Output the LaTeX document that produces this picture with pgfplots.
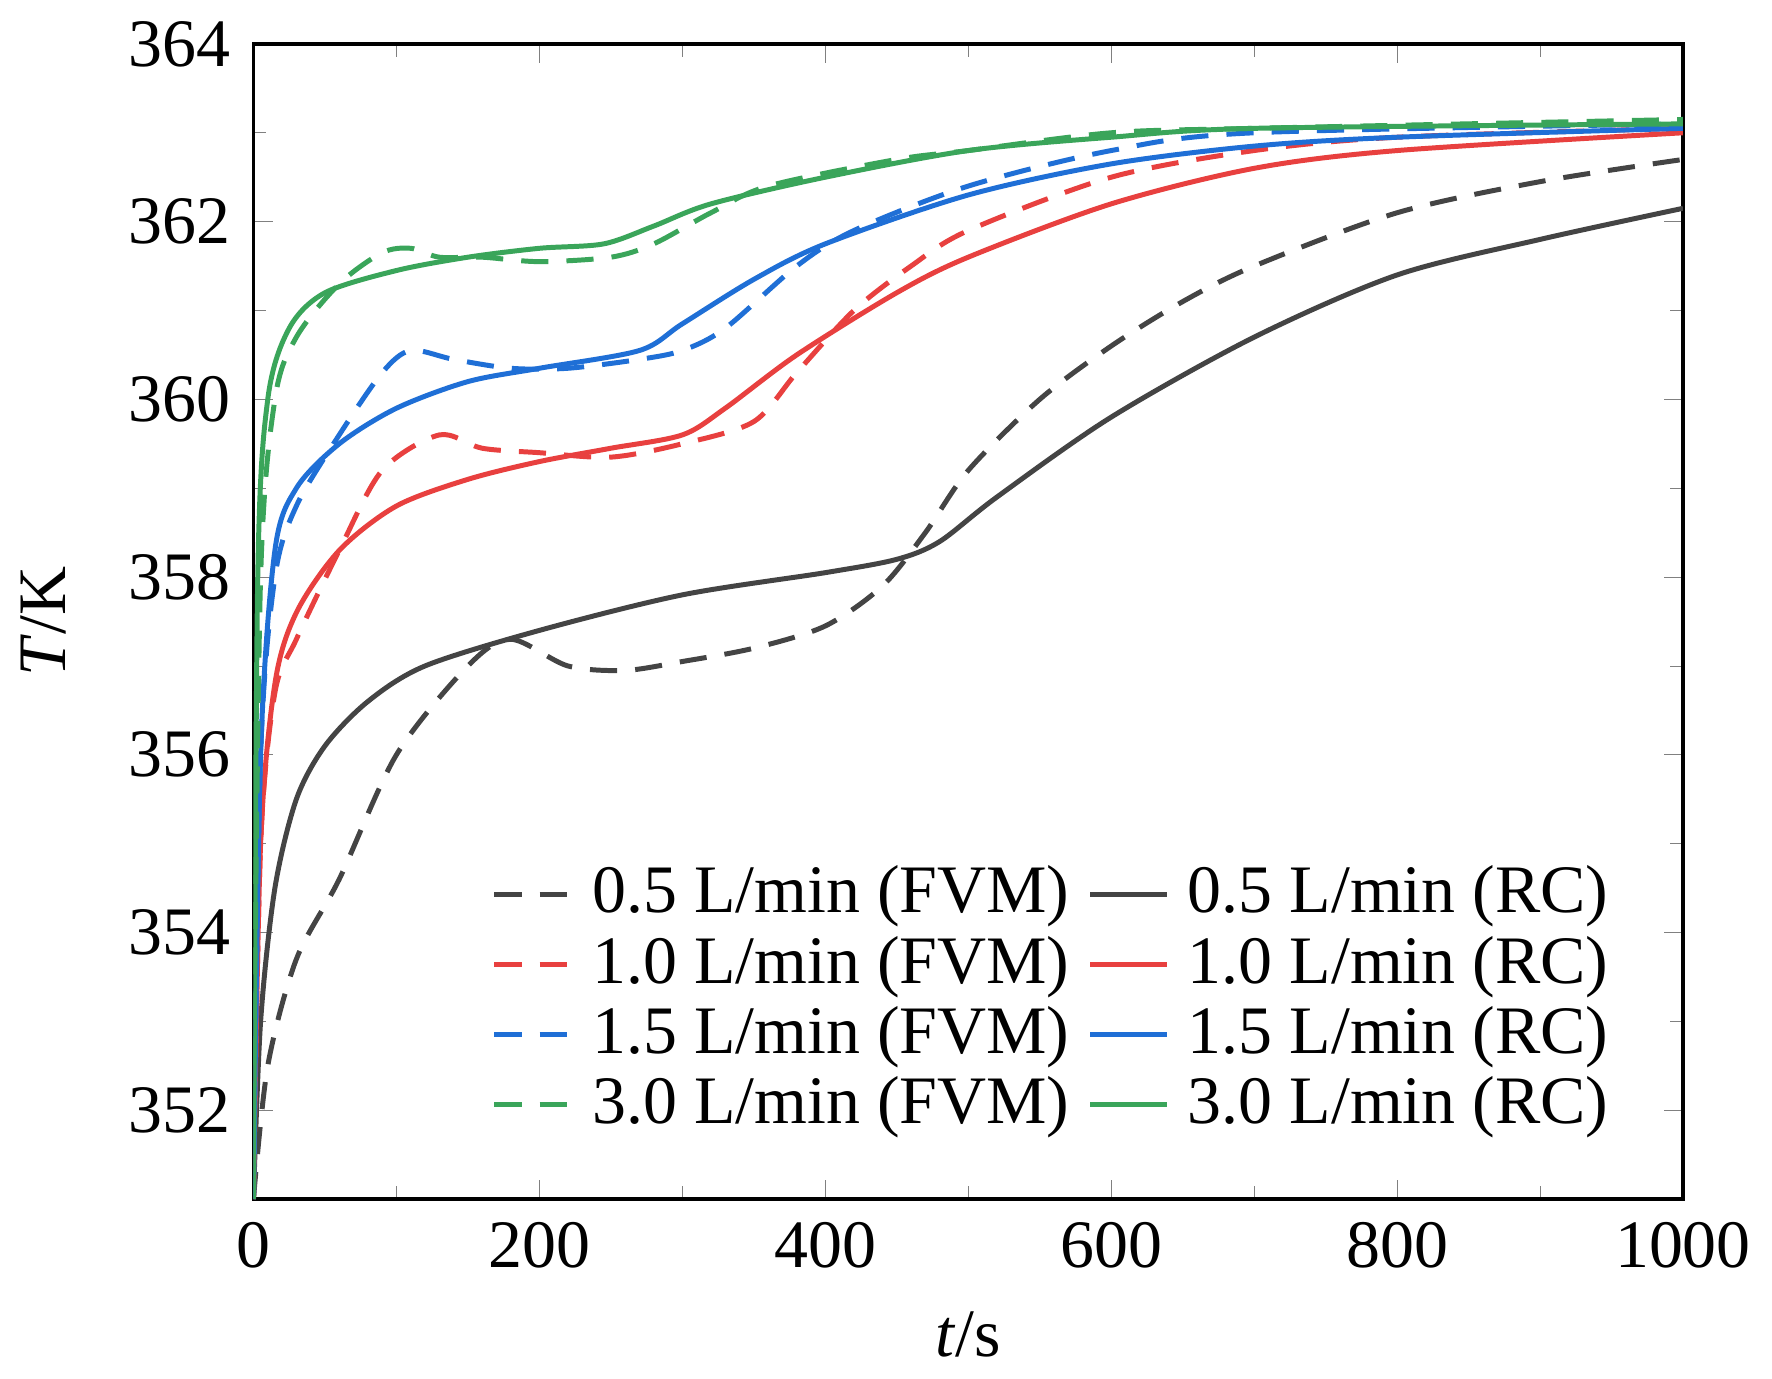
\documentclass[border=0pt]{standalone}
\usepackage{pgfplots}
\pgfplotsset{compat=1.18}
\usepackage{fontspec}
\setmainfont{Liberation Serif}
\definecolor{cg}{HTML}{444444}
\definecolor{cr}{HTML}{E8403F}
\definecolor{cb}{HTML}{1F6FD6}
\definecolor{cgr}{HTML}{3AA55A}
\begin{document}
\fontsize{14}{16}\selectfont
\begin{tikzpicture}
\begin{axis}[
 width=11.1cm, height=8.97cm, scale only axis,
 xmin=0, xmax=1000, ymin=351, ymax=364,
 xtick={0,200,...,1000}, ytick={352,354,...,364},
 minor x tick num=1, minor y tick num=1,
 tick pos=both, tick align=inside,
 /pgf/number format/assume math mode=true,
 /pgf/number format/1000 sep={},
 ticklabel style={font=\fontsize{15}{17}\selectfont},
 xlabel={\textit{t}/s}, ylabel={\textit{T}/K},
 label style={font=\fontsize{15}{17}\selectfont},
 ylabel style={yshift=4pt},
 thick,
 legend columns=2,
 legend style={draw=none, fill=none, at={(0.965,0.04)}, anchor=south east,
   font=\fontsize{15}{17}\selectfont, column sep=2pt, row sep=-1pt},
 legend cell align=left,
 every axis plot/.append style={line width=1.1pt, smooth},
 mydash/.style={dash pattern=on 6pt off 4pt},
]
\addplot[cg, mydash] coordinates {(0,351)(10,352.5)(30,353.7)(60,354.6)(100,356.0)(150,357.0)(180,357.3)(220,357.0)(260,356.95)(300,357.05)(350,357.2)(400,357.45)(440,357.9)(470,358.5)(500,359.2)(550,360.0)(600,360.6)(650,361.1)(700,361.5)(800,362.1)(900,362.45)(1000,362.7)};
\addlegendentry{0.5 L/min (FVM)}
\addplot[cg] coordinates {(0,351)(5,353)(15,354.5)(30,355.5)(50,356.1)(80,356.6)(120,357.0)(200,357.4)(300,357.8)(400,358.05)(450,358.2)(480,358.4)(520,358.9)(600,359.8)(700,360.7)(800,361.4)(900,361.8)(1000,362.15)};
\addlegendentry{0.5 L/min (RC)}
\addplot[cr, mydash] coordinates {(0,351)(5,355)(15,356.7)(30,357.3)(60,358.3)(90,359.2)(130,359.6)(160,359.45)(200,359.4)(250,359.35)(300,359.5)(350,359.75)(380,360.3)(420,361.0)(460,361.5)(500,361.9)(600,362.5)(700,362.8)(800,362.95)(1000,363.05)};
\addlegendentry{1.0 L/min (FVM)}
\addplot[cr] coordinates {(0,351)(5,355)(15,356.8)(30,357.6)(60,358.3)(100,358.8)(150,359.1)(200,359.3)(250,359.45)(300,359.6)(330,359.9)(380,360.5)(450,361.2)(500,361.6)(600,362.2)(700,362.6)(800,362.8)(1000,363.0)};
\addlegendentry{1.0 L/min (RC)}
\addplot[cb, mydash] coordinates {(0,351)(5,356)(15,358.0)(30,358.8)(60,359.6)(90,360.3)(110,360.55)(140,360.45)(180,360.35)(220,360.35)(270,360.45)(300,360.55)(330,360.8)(380,361.5)(420,361.9)(500,362.4)(600,362.8)(700,363.0)(1000,363.1)};
\addlegendentry{1.5 L/min (FVM)}
\addplot[cb] coordinates {(0,351)(5,356)(15,358.3)(30,359.0)(60,359.5)(100,359.9)(150,360.2)(200,360.35)(270,360.55)(300,360.85)(350,361.35)(400,361.75)(500,362.3)(600,362.65)(700,362.85)(800,362.95)(1000,363.05)};
\addlegendentry{1.5 L/min (RC)}
\addplot[cgr, mydash] coordinates {(0,352)(5,358)(15,360.0)(30,360.7)(60,361.3)(90,361.65)(110,361.7)(130,361.6)(160,361.6)(200,361.55)(250,361.6)(280,361.75)(320,362.1)(360,362.4)(450,362.7)(500,362.8)(600,363.0)(700,363.05)(1000,363.15)};
\addlegendentry{3.0 L/min (FVM)}
\addplot[cgr] coordinates {(0,351)(3,358)(10,360)(25,360.8)(50,361.2)(100,361.45)(150,361.6)(200,361.7)(245,361.75)(280,361.95)(320,362.2)(400,362.5)(500,362.8)(600,362.95)(700,363.05)(1000,363.1)};
\addlegendentry{3.0 L/min (RC)}
\end{axis}
\end{tikzpicture}
\end{document}
